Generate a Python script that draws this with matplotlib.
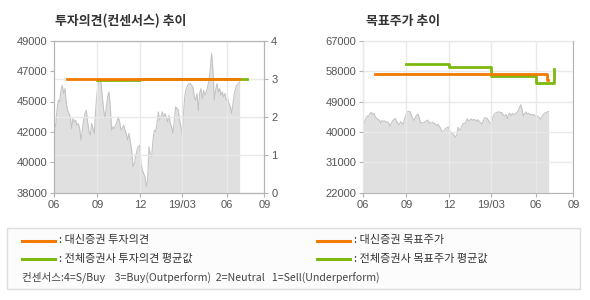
import numpy as np
import matplotlib
matplotlib.use("Agg")
import matplotlib.pyplot as plt
from matplotlib.lines import Line2D
from matplotlib.patches import Rectangle

KR = ['Noto Sans CJK KR', 'DejaVu Sans']
NUM = ['Liberation Sans', 'DejaVu Sans']

# price (closing), one value per step on the x index
price = [43007, 42766, 43970, 44692, 44571, 45414, 45775, 45173, 45534, 44451,
         43970, 43729, 43488, 42646, 43368, 43127, 43247, 42886, 43007, 42646,
         41803, 42525, 43247, 43729, 43970, 43127, 42405, 42164, 43007, 42646,
         42285, 43970, 45173, 45895, 46136, 46016, 44933, 43970, 43368, 44211,
         44933, 45294, 44211, 42525, 42766, 42646, 42886, 43127, 43488, 43127,
         42525, 42646, 42886, 42525, 42285, 41803, 42285, 41683, 41081, 39878,
         40118, 40600, 41081, 41322, 41442, 40118, 39637, 39396, 39156, 38434,
         38915, 41322, 40720, 40600, 41803, 42525, 42405, 43007, 43849, 43247,
         43488, 43849, 43368, 43729, 43488, 43127, 43609, 43007, 42766, 42285,
         43247, 44211, 44090, 43970, 43247, 42766, 42164, 43970, 45053, 45534,
         45775, 45895, 45895, 45775, 45655, 44933, 44692, 45173, 43970, 45173,
         45534, 44812, 45414, 45053, 45294, 45655, 46136, 46978, 48061, 46858,
         44692, 45414, 45895, 45294, 45534, 45053, 45294, 44933, 45173, 44692,
         44812, 44451, 44211, 43729, 44451, 45173, 45534, 45775, 45895, 46016]
px = np.arange(len(price))

# month ticks on the same x index
tick_pos = [0, 32.25, 64.5, 96, 129.3, 157.5]
tick_lab = ['06', '09', '12', '19/03', '06', '09']

# investment opinion (4=S/Buy .. 1=Sell)
op_x = [9.3, 138.5]
op_y = [3.0, 3.0]
cons_x = [32.25, 64.5, 144.5]
cons_y = [2.97, 3.0, 3.0]

# target price
tp_x = [8.8, 138.0, 138.3]
tp_y = [57000, 55500, 55500]
avg_x = [32.25, 64.5, 96, 129.3, 143.3]
avg_y = [60000, 59300, 56600, 54400, 58500]

left_ticks = np.linspace(38000, 49000, 6)
left_lab = ['38000', '40000', '42000', '45000', '47000', '49000']
right_ticks = np.linspace(22000, 67000, 6)

ORANGE = '#f27a00'
GREEN = '#7cb80e'
FILL = '#e0e0e0'
PLINE = '#c4c4c4'
GRID = '#e9e9e9'
SPINE = '#b4b4b4'
TXT = '#555555'

W, H = 590, 300
fig = plt.figure(figsize=(W / 100, H / 100), dpi=100)


def frac(x0, y0, x1, y1):
    return [x0 / W, 1 - y1 / H, (x1 - x0) / W, (y1 - y0) / H]


def style(ax):
    for s in ax.spines.values():
        s.set_color(SPINE)
    ax.tick_params(colors=SPINE, labelcolor=TXT, length=3, width=0.8,
                   labelsize=8, pad=2)
    for lab in ax.get_xticklabels() + ax.get_yticklabels():
        lab.set_family(NUM)


# ---- left: opinion chart
ax = fig.add_axes(frac(54.3, 40.7, 264.3, 192.7))
ax.fill_between(px, 38000, price, color=FILL, lw=0)
ax.plot(px, price, color=PLINE, lw=0.8)
ax.set_ylim(38000, 49000)
ax.set_xlim(0, 157.5)
ax.set_yticks(left_ticks)
ax.set_yticklabels(left_lab)
ax.set_xticks(tick_pos)
ax.set_xticklabels(tick_lab)
style(ax)

ax2 = ax.twinx()
ax2.set_ylim(0, 4)
ax2.set_yticks([0, 1, 2, 3, 4])
ax2.grid(True, color=GRID, lw=1)
ax2.xaxis.grid(True, color=GRID, lw=1)
ax2.step(cons_x, cons_y, where='post', color=GREEN, lw=2)
ax2.plot(op_x, op_y, color=ORANGE, lw=2)
style(ax2)
ax2.set_xlim(0, 157.5)
ax.grid(False)
# vertical grid above the fill
for t in tick_pos[1:-1]:
    ax2.axvline(t, color=GRID, lw=1, zorder=1)

fig.text(55 / W, 1 - 21 / H, '투자의견(컨센서스) 추이', family=KR, fontsize=9.3,
         fontweight='bold', color='#333333', va='center')

# ---- right: target price chart
bx = fig.add_axes(frac(363.3, 40.7, 573.3, 192.7))
bx.fill_between(px, 22000, price, color=FILL, lw=0, zorder=1)
bx.plot(px, price, color=PLINE, lw=0.8, zorder=1.2)
bx.set_ylim(22000, 67000)
bx.set_xlim(0, 157.5)
bx.set_yticks(right_ticks)
bx.set_yticklabels([f'{int(v)}' for v in right_ticks])
bx.set_xticks(tick_pos)
bx.set_xticklabels(tick_lab)
bx.grid(True, color=GRID, lw=1, zorder=1.5)
bx.set_axisbelow(False)
for gl in bx.get_xgridlines() + bx.get_ygridlines():
    gl.set_zorder(1.5)
bx.step(avg_x, avg_y, where='post', color=GREEN, lw=2, zorder=3)
bx.step(tp_x, tp_y, where='post', color=ORANGE, lw=2, zorder=3.5)
style(bx)

fig.text(366 / W, 1 - 21 / H, '목표주가 추이', family=KR, fontsize=9.3,
         fontweight='bold', color='#333333', va='center')

# ---- legend box
fig.add_artist(Rectangle((7 / W, 1 - 289 / H), (580 - 7) / W, (289 - 228) / H,
                         transform=fig.transFigure, facecolor='#fcfcfc',
                         edgecolor='#dddddd', lw=1))


def key(x0, y, color, label):
    fig.add_artist(Line2D([x0 / W, (x0 + 33) / W], [1 - y / H, 1 - y / H],
                          color=color, lw=2.2, transform=fig.transFigure))
    fig.text((x0 + 37) / W, 1 - y / H, ': ' + label, family=KR, fontsize=8,
             color='#333333', va='center')


key(22, 240.5, ORANGE, '대신증권 투자의견')
key(22, 258.5, GREEN, '전체증권사 투자의견 평균값')
key(317, 240.5, ORANGE, '대신증권 목표주가')
key(317, 258.5, GREEN, '전체증권사 목표주가 평균값')
fig.text(22 / W, 1 - 277 / H,
         '컨센서스:4=S/Buy    3=Buy(Outperform)  2=Neutral   1=Sell(Underperform)',
         family=KR, fontsize=7.6, color='#444444', va='center')

fig.savefig('out.png', dpi=100)
